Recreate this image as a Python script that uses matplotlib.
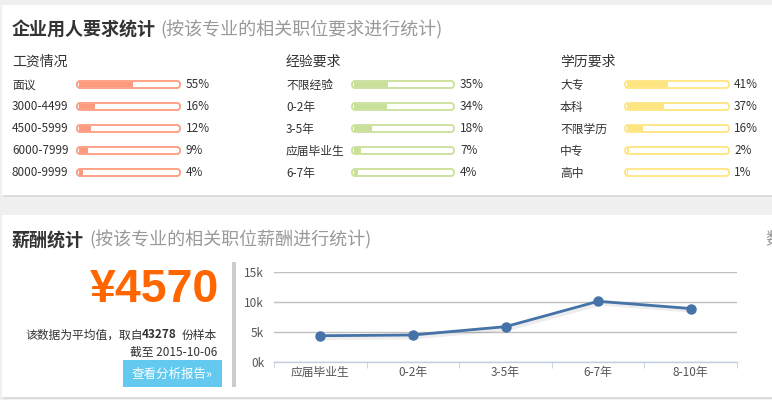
import matplotlib
matplotlib.use("Agg")
import matplotlib.pyplot as plt
from matplotlib.patches import Rectangle, FancyBboxPatch

plt.rcParams['font.family'] = ['Noto Sans CJK SC', 'DejaVu Sans']

# ---- data ----
salary_labels = ["面议", "3000-4499", "4500-5999", "6000-7999", "8000-9999"]
salary_pct = [55, 16, 12, 9, 4]
exp_labels = ["不限经验", "0-2年", "3-5年", "应届毕业生", "6-7年"]
exp_pct = [35, 34, 18, 7, 4]
edu_labels = ["大专", "本科", "不限学历", "中专", "高中"]
edu_pct = [41, 37, 16, 2, 1]

line_cats = ["应届毕业生", "0-2年", "3-5年", "6-7年", "8-10年"]
line_vals = [4400, 4520, 5900, 10100, 8900]
ytick_vals = [0, 5000, 10000, 15000]
ytick_labels = ["0k", "5k", "10k", "15k"]

W, H = 772, 400
fig = plt.figure(figsize=(W / 100, H / 100), dpi=100)
fig.patch.set_facecolor("#f0f0f0")

# overlay axes in pixel coordinates (y downward)
bg = fig.add_axes([0, 0, 1, 1])
bg.set_xlim(0, W)
bg.set_ylim(H, 0)
bg.axis("off")

# panels with soft shadow
for (y0, y1) in [(5, 195), (215, 397)]:
    bg.add_patch(Rectangle((3, y0 + 1.5), W, y1 - y0, facecolor="#dcdcdc", edgecolor="none"))
    bg.add_patch(Rectangle((2, y0), W, y1 - y0, facecolor="white", edgecolor="none"))

# titles
bg.text(12, 30, "企业用人要求统计", fontsize=13, fontweight="bold", color="#333333", va="center", ha="left")
bg.text(160, 30, "(按该专业的相关职位要求进行统计)", fontsize=13, color="#999999", va="center", ha="left")
bg.text(12, 240, "薪酬统计", fontsize=13, fontweight="bold", color="#333333", va="center", ha="left")
bg.text(89, 240, "(按该专业的相关职位薪酬进行统计)", fontsize=13, color="#999999", va="center", ha="left")
bg.text(765, 240, "数", fontsize=12.5, color="#999999", va="center", ha="left")

# bar groups
groups = [
    ("工资情况", salary_labels, salary_pct, 12, 77, 180, 186, "#fd9b7f", "#fd9b7f"),
    ("经验要求", exp_labels, exp_pct, 286, 352, 454, 460, "#c9e09a", "#c9e09a"),
    ("学历要求", edu_labels, edu_pct, 560, 625, 729, 734, "#ffe57f", "#ffe57f"),
]
row_y = [84.5, 106.5, 128.5, 150.5, 172.5]
for title, labels, pcts, lx, bx0, bx1, px, edge, fill in groups:
    bg.text(lx, 62, title, fontsize=10, color="#333333", va="center", ha="left")
    for lab, p, y in zip(labels, pcts, row_y):
        bg.text(lx, y + 0.5, lab, fontsize=8.5, color="#333333", va="center", ha="left")
        bg.add_patch(FancyBboxPatch((bx0, y - 3.5), bx1 - bx0, 7,
                                    boxstyle="round,pad=0,rounding_size=3",
                                    facecolor="white", edgecolor=edge, linewidth=1.3))
        inner = (bx1 - bx0 - 4)
        bg.add_patch(Rectangle((bx0 + 2, y - 2.5), max(inner * p / 100, 1.2), 5,
                               facecolor=fill, edgecolor="none"))
        bg.text(px, y + 0.5, f"{p}%", fontsize=8.5, color="#333333", va="center", ha="left")

# salary summary
bg.text(219, 290, "¥4570", fontsize=33.5, fontweight="bold", color="#ff6600",
        va="center", ha="right", family=["Liberation Sans", "DejaVu Sans"])
bg.text(217, 335, "份样本", fontsize=8.5, color="#333333", va="center", ha="right")
bg.text(177, 335, "43278", fontsize=8.5, fontweight="bold", color="#333333", va="center", ha="right")
bg.text(143, 335, "该数据为平均值，取自", fontsize=8.5, color="#333333", va="center", ha="right")
bg.text(217, 352, "截至 2015-10-06", fontsize=8.5, color="#333333", va="center", ha="right")
bg.add_patch(Rectangle((123, 360), 99, 27, facecolor="#63c9ef", edgecolor="none"))
bg.text(172, 374, "查看分析报告»", fontsize=9, color="white", va="center", ha="center")

# separator
bg.add_patch(Rectangle((232, 262), 4, 125, facecolor="#cccccc", edgecolor="none"))

# line chart
ax = fig.add_axes([274 / W, 1 - 362.3 / H, 463 / W, 90.6 / H])
ax.set_facecolor("none")
x = list(range(len(line_cats)))
ax.plot([xi + 0.03 for xi in x], [v - 250 for v in line_vals], color="#000000", alpha=0.07, linewidth=4, zorder=2)
ax.plot(x, line_vals, color="#4572a7", linewidth=2, marker="o", markersize=6.5, zorder=3)
ax.set_xlim(-0.5, len(line_cats) - 0.5)
ax.set_ylim(0, 15000)
ax.set_yticks(ytick_vals)
ax.set_yticklabels(ytick_labels)
ax.set_xticks(x)
ax.set_xticklabels(line_cats)
ax.set_xticks([i - 0.5 for i in range(len(line_cats) + 1)], minor=True)
ax.tick_params(axis="x", which="major", length=0, pad=3, labelsize=8.5, labelcolor="#555555")
ax.tick_params(axis="x", which="minor", length=4, color="#c0d0e0", direction="out")
ax.tick_params(axis="y", length=0, pad=7, labelsize=8.5, labelcolor="#555555")
ax.grid(axis="y", color="#c0c0c0", linewidth=1)
ax.set_axisbelow(True)
for s in ["top", "right", "left"]:
    ax.spines[s].set_visible(False)
ax.spines["bottom"].set_color("#c0d0e0")
ax.spines["bottom"].set_linewidth(1)
ax.spines["bottom"].set_zorder(1)

fig.savefig("out.png", dpi=100)
